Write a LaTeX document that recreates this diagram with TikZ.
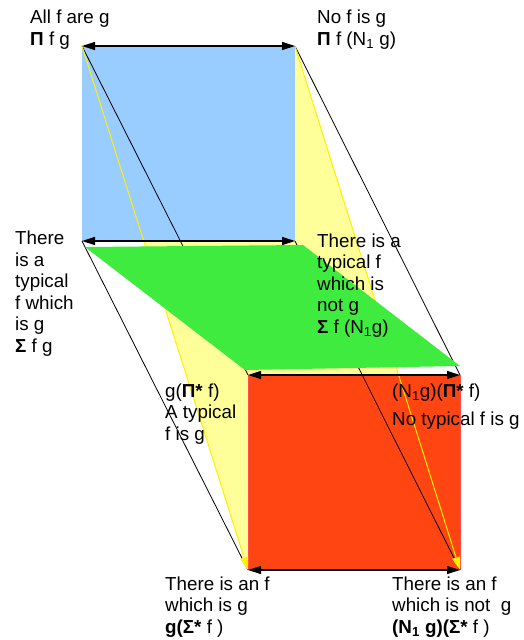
\documentclass[tikz,border=0pt]{standalone}
\usepackage{fontspec}
\setmainfont{Liberation Sans}
\usepackage{tikz}
\usetikzlibrary{arrows.meta}

\definecolor{skyface}{RGB}{153,204,255}
\definecolor{grassface}{RGB}{62,235,62}
\definecolor{fireface}{RGB}{255,69,18}
\definecolor{paleface}{RGB}{255,255,153}
\definecolor{lemon}{RGB}{255,240,0}

\begin{document}
\begin{tikzpicture}[
    x=1pt, y=-1pt,
    edge/.style={{Triangle[length=13pt, width=8pt]}-{Triangle[length=13pt, width=8pt]}, line width=1.2pt},
    link/.style={line width=0.8pt},
    ylink/.style={draw=lemon, line width=1pt, -{Triangle[length=13pt, width=8pt]}},
    txt/.style={anchor=base west, inner sep=0pt, align=left, font=\fontsize{18.8}{21.5}\selectfont},
]
\useasboundingbox (0,0) rectangle (523,640);

% corners of the three faces
\coordinate (bTL) at (82,46);
\coordinate (bTR) at (295,46);
\coordinate (bBL) at (82,241);
\coordinate (bBR) at (295,241);
\coordinate (gTL) at (85,247);
\coordinate (gTR) at (303,245);
\coordinate (gBR) at (460,366);
\coordinate (gBL) at (245,370);
\coordinate (rTL) at (248,375);
\coordinate (rTR) at (460,375);
\coordinate (rBL) at (248,570);
\coordinate (rBR) at (460,570);

% yellow band behind everything
\fill[paleface] (bTL) -- (bTR) -- (rBR) -- (rBL) -- cycle;

% blue and red squares
\fill[skyface] (bTL) rectangle (bBR);
\fill[fireface] (rTL) rectangle (rBR);
\draw[red!70!white, line width=0.6pt] (rTL) -- (rBL) (rTR) -- (rBR);

% corner links
\draw[link] (bTL) -- (rTL);
\draw[link] (bTR) -- (rTR);
\draw[link] (bBL) -- (rBL);
\draw[link] (bBR) -- (rBR);
\draw[ylink] (bTL) -- (rBL);
\draw[ylink] (bTR) -- (rBR);

% green plane
\fill[grassface] (gTL) -- (gTR) -- (gBR) -- (gBL) -- cycle;

% square edges
\draw[edge] (bTL) -- (bTR);
\draw[edge] (bBL) -- (bBR);
\draw[edge] (rTL) -- (rTR);
\draw[edge] (rBL) -- (rBR);

% labels (placed at the baseline of their last line)
\node[txt] (allfg) at (30,45) {All f are g\\\textbf{Π} f g};
\node[txt] (nofg) at (317,45) {No f is g\\\textbf{Π} f (N\textsubscript{1} g)};
\node[txt] (typg) at (15,352) {There\\is a\\typical\\f which\\is g\\\textbf{Σ} f g};
\node[txt] (typng) at (317,333) {There is a\\typical f\\which is\\not g\\\textbf{Σ} f (N\textsubscript{1}g)};
\node[txt] (atyp) at (165,440) {g(\textbf{Π*} f)\\A typical\\f is g};
\node[txt] (notyp) at (392,425) {(N\textsubscript{1}g)(\textbf{Π*} f)\\[6.5pt]No typical f is g};
\node[txt] (anf) at (165,633) {There is an f\\which is g\\\textbf{g(Σ*} f )};
\node[txt] (anfn) at (392,633) {There is an f\\which is not~ g\\\textbf{(N\textsubscript{1} g)(Σ*} f )};

\end{tikzpicture}
\end{document}
